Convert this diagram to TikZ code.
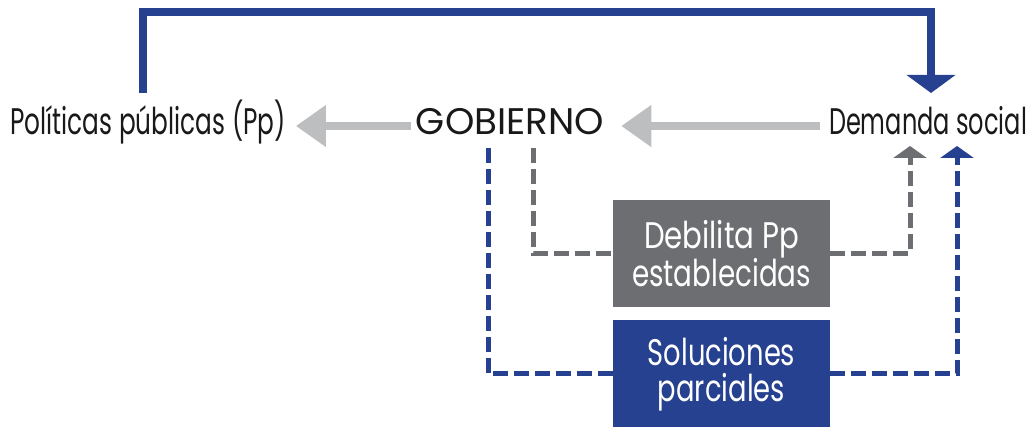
\documentclass[tikz,border=0pt]{standalone}
\usepackage{fontspec}
\setmainfont{Poppins}
\usetikzlibrary{arrows.meta,positioning}
\definecolor{azul}{HTML}{26418F}
\definecolor{gris}{HTML}{6D6E71}
\definecolor{grisclaro}{HTML}{BDBEC0}
\newcommand{\ancho}[2]{\scalebox{#1}[1]{#2}}
\tikzset{
  lbl/.style={inner sep=0pt, anchor=base, text=black!90, font=\fontsize{37}{37}\selectfont},
  caja/.style={inner sep=0pt, minimum width=217pt, minimum height=107pt, text=white,
    align=center, font=\fontsize{37}{36}\selectfont},
  flecha/.style={draw=grisclaro, line width=8pt, -{Triangle[width=40pt,length=30pt]}},
  guion/.style={line width=5pt, dash pattern=on 15pt off 6pt},
  punta/.style={-{Triangle[width=33pt,length=12pt]}},
}
\begin{document}
\begin{tikzpicture}[x=1pt, y=-1pt]
  \useasboundingbox (0,0) rectangle (1032,427);
  % labels on the main row
  \node[lbl] (pp) at (148,135) {\ancho{0.67}{Políticas públicas (Pp)}};
  \node[lbl] (gob) at (510,135) {\ancho{1.01}{GOBIERNO}};
  \node[lbl] (dem) at (928,135) {\ancho{0.65}{Demanda social}};
  % boxes
  \node[caja, fill=gris] (deb) at (721.5,253.5) {\ancho{0.79}{Debilita Pp}\\\ancho{0.75}{establecidas}};
  \node[caja, fill=azul, below=13pt of deb] (sol) {\ancho{0.74}{Soluciones}\\\ancho{0.74}{parciales}};
  % free ends
  \coordinate (ti) at (143,93);
  \coordinate (tf) at (931,93);
  \coordinate (gi) at (533,148);
  \coordinate (bi) at (488,148);
  \coordinate (gf) at (910,146);
  \coordinate (bf) at (957,146);
  % grey arrows
  \draw[flecha] ([xshift=-5pt,yshift=9pt]gob.base west) -- ([xshift=10pt,yshift=9pt]pp.base east);
  \draw[flecha] ([xshift=-9pt,yshift=9pt]dem.base west) -- ([xshift=17pt,yshift=9pt]gob.base east);
  % top feedback line
  \draw[azul, line width=8pt, -{Triangle[width=48pt,length=18pt]}]
    (ti) -- (143,12) -- (931,12) -- (tf);
  % dashed branches
  \draw[guion, gris] (gi) |- (deb.west);
  \draw[guion, gris, punta] (deb.east) -| (gf);
  \draw[guion, azul] (bi) |- (sol.west);
  \draw[guion, azul, punta] (sol.east) -| (bf);
\end{tikzpicture}
\end{document}
